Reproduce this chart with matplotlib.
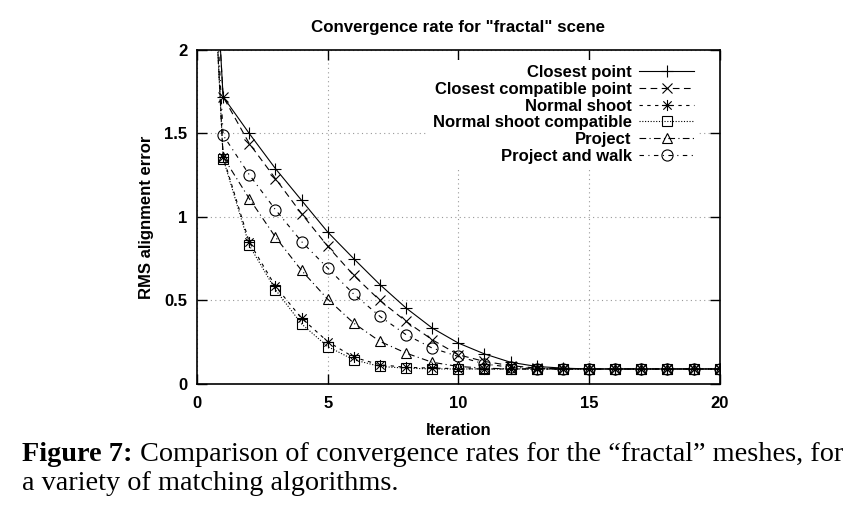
import matplotlib
matplotlib.use("Agg")
import matplotlib.pyplot as plt
from matplotlib.path import Path

plt.rcParams["font.family"] = ["Liberation Sans", "DejaVu Sans"]

# values (iteration 0 lies above the y-range)
iterations = list(range(21))
closest_point = [4.5, 1.72, 1.50, 1.29, 1.10, 0.91, 0.75, 0.595, 0.455, 0.335, 0.245,
                 0.18, 0.13, 0.105, 0.095, 0.09, 0.09, 0.09, 0.09, 0.09, 0.09]
closest_compatible = [4.5, 1.72, 1.44, 1.23, 1.02, 0.825, 0.65, 0.50, 0.375, 0.265, 0.175,
                      0.135, 0.11, 0.095, 0.09, 0.09, 0.09, 0.09, 0.09, 0.09, 0.09]
normal_shoot = [4.5, 1.36, 0.85, 0.585, 0.394, 0.254, 0.16, 0.115, 0.10, 0.095, 0.092,
                0.09, 0.09, 0.09, 0.09, 0.09, 0.09, 0.09, 0.09, 0.09, 0.09]
normal_shoot_compat = [4.5, 1.35, 0.83, 0.565, 0.36, 0.224, 0.145, 0.105, 0.095, 0.09, 0.09,
                       0.09, 0.09, 0.09, 0.09, 0.09, 0.09, 0.09, 0.09, 0.09, 0.09]
project = [4.5, 1.36, 1.11, 0.88, 0.68, 0.508, 0.364, 0.255, 0.185, 0.13, 0.105,
           0.095, 0.09, 0.09, 0.09, 0.09, 0.09, 0.09, 0.09, 0.09, 0.09]
project_walk = [4.5, 1.49, 1.253, 1.044, 0.853, 0.694, 0.538, 0.405, 0.295, 0.215, 0.165,
                0.12, 0.10, 0.092, 0.09, 0.09, 0.09, 0.09, 0.09, 0.09, 0.09]

labels = ["Closest point", "Closest compatible point", "Normal shoot",
          "Normal shoot compatible", "Project", "Project and walk"]
x_ticks = [0, 5, 10, 15, 20]
y_ticks = [0, 0.5, 1, 1.5, 2]
y_tick_labels = ["0", "0.5", "1", "1.5", "2"]

# gnuplot style asterisk (plus + cross)
ast = Path([(-1, 0), (1, 0), (0, -1), (0, 1), (-.75, -.75), (.75, .75), (-.75, .75), (.75, -.75)],
           [Path.MOVETO, Path.LINETO] * 4)

styles = [
    dict(ls="-", marker="+", ms=9),
    dict(ls=(0, (6, 4)), marker="x", ms=7),
    dict(ls=(0, (3, 4)), marker=ast, ms=8),
    dict(ls=(0, (1, 1.5)), marker="s", ms=7),
    dict(ls=(0, (6, 3, 1, 3)), marker="^", ms=7),
    dict(ls=(0, (4, 4, 1, 4)), marker="o", ms=8),
]
series = [closest_point, closest_compatible, normal_shoot, normal_shoot_compat,
          project, project_walk]

fig = plt.figure(figsize=(8.64, 5.18), dpi=100)
ax = fig.add_axes([0.228, 0.2587, 0.605, 0.6448])

for y, lab, st in zip(series, labels, styles):
    ax.plot(iterations, y, color="black", lw=0.8, mfc="none", mec="black", mew=0.8,
            label=lab, **st)

ax.set_xlim(0, 20)
ax.set_ylim(0, 2)
ax.set_xticks(x_ticks)
ax.set_yticks(y_ticks)
ax.set_yticklabels(y_tick_labels)
ax.grid(True, color="#999999", ls=(0, (1, 3)), lw=0.8)
ax.tick_params(direction="in", length=7, width=1, top=True, right=True, labelsize=12)
ax.tick_params(axis="x", pad=9)
ax.tick_params(axis="y", pad=7)
for t in ax.get_xticklabels() + ax.get_yticklabels():
    t.set_fontweight("bold")
for s in ax.spines.values():
    s.set_linewidth(1.2)

ax.set_title('Convergence rate for "fractal" scene', fontsize=12.2, fontweight="bold", pad=13)
ax.set_xlabel("Iteration", fontsize=12, fontweight="bold", labelpad=8)
ax.set_ylabel("RMS alignment error", fontsize=12, fontweight="bold", labelpad=7)

# markerfirst=False: label then sample, rows right-aligned
leg = ax.legend(loc="upper right", bbox_to_anchor=(0.977, 0.994), markerfirst=False,
                frameon=True, facecolor="white", edgecolor="none", framealpha=1,
                prop=dict(weight="bold", size=12), handlelength=3.3, handletextpad=0.45,
                labelspacing=0.1, borderpad=0.3, fancybox=False)
leg.set_zorder(5)

# caption below the plot
cap1 = fig.text(0.026, 0.1106, "Figure 7:", family="Liberation Serif", fontweight="bold",
                fontsize=20.3, va="baseline")
ax.annotate(" Comparison of convergence rates for the \u201cfractal\u201d meshes, for",
            xy=(1, 0), xycoords=cap1, va="bottom", ha="left",
            family="Liberation Serif", fontsize=20.3)
fig.text(0.026, 0.054, "a variety of matching algorithms.", family="Liberation Serif",
         fontsize=20.3, va="baseline")

fig.savefig("out.png", dpi=100)
